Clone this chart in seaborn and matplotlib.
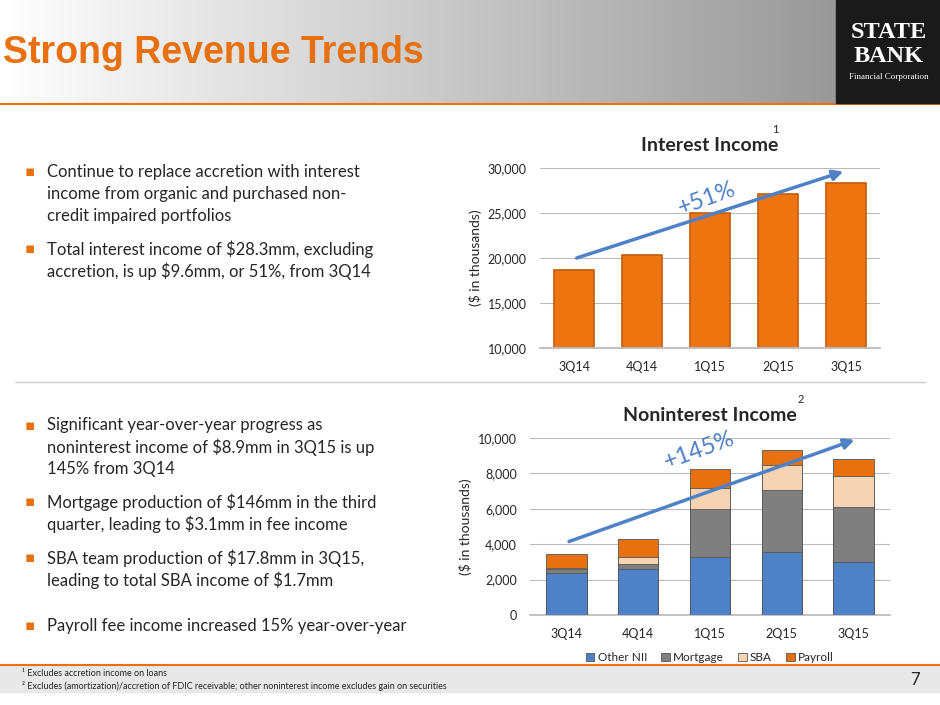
import matplotlib
matplotlib.use("Agg")
import matplotlib.pyplot as plt
import seaborn as sns
import numpy as np
import pandas as pd
from matplotlib.patches import Rectangle

quarters = ["3Q14", "4Q14", "1Q15", "2Q15", "3Q15"]
interest_income = [18700, 20300, 25000, 27100, 28300]
other_nii = [2400, 2600, 3300, 3550, 3020]
mortgage = [200, 280, 2700, 3500, 3080]
sba = [50, 380, 1150, 1420, 1760]
payroll = [780, 1010, 1100, 860, 960]
series_names = ["Other NII", "Mortgage", "SBA", "Payroll"]
series_colors = ["#4f81c7", "#7f7f7f", "#f5d3b3", "#e8700e"]

sns.set_theme(style="white")
plt.rcParams['font.family'] = ['Lato', 'DejaVu Sans']

fig = plt.figure(figsize=(9.4, 7.05), dpi=100)
W, H = 940, 705
def fx(x): return x / W
def fy(y): return 1 - y / H

# header gradient
bg = fig.add_axes([0, fy(103), 1, 103 / H]); bg.axis("off")
grad = np.linspace(1, 0.55, 256)[None, :]
bg.imshow(np.dstack([grad]*3), aspect="auto", extent=[0, 1, 0, 1])
bg.set_xlim(0, 1); bg.set_ylim(0, 1)
fig.patches.append(Rectangle((fx(836), fy(103)), 1 - fx(836), 103 / H, transform=fig.transFigure, color="#1a1a1a", zorder=5))
fig.text(fx(889), fy(33), "STATE", color="white", ha="center", va="center", fontsize=17.5, fontweight="bold", family="Liberation Serif", zorder=6)
fig.text(fx(889), fy(57), "BANK", color="white", ha="center", va="center", fontsize=17.5, fontweight="bold", family="Liberation Serif", zorder=6)
fig.text(fx(889), fy(77), "Financial Corporation", color="white", ha="center", va="center", fontsize=6.5, family="Liberation Serif", zorder=6)
fig.text(fx(3), fy(53), "Strong Revenue Trends", color="#e8700e", fontsize=27, fontweight="bold", family="Liberation Sans", va="center")
fig.add_artist(plt.Line2D([0, 1], [fy(104), fy(104)], color="#e8700e", lw=1.5))
fig.add_artist(plt.Line2D([fx(15), fx(925)], [fy(382), fy(382)], color="#cccccc", lw=1))
# footer
fig.patches.append(Rectangle((0, fy(692)), 1, 27 / H, transform=fig.transFigure, color="#e8e8e8", zorder=0))
fig.add_artist(plt.Line2D([0, 1], [fy(665), fy(665)], color="#e8700e", lw=1.5))
fig.text(fx(22), fy(674), "¹ Excludes accretion income on loans", fontsize=6.5, va="center")
fig.text(fx(22), fy(686), "² Excludes (amortization)/accretion of FDIC receivable; other noninterest income excludes gain on securities", fontsize=6.5, va="center")
fig.text(fx(915), fy(680), "7", fontsize=12, ha="center", va="center")

# bullets
def bullet(y, lines):
    fig.text(fx(25), fy(y), "▪", color="#e8700e", fontsize=11, va="center", family="DejaVu Sans")
    for i, l in enumerate(lines):
        fig.text(fx(47), fy(y + i * 22), l, fontsize=12, va="center")
bullet(172, ["Continue to replace accretion with interest", "income from organic and purchased non-", "credit impaired portfolios"])
bullet(249, ["Total interest income of $28.3mm, excluding", "accretion, is up $9.6mm, or 51%, from 3Q14"])
bullet(425, ["Significant year-over-year progress as", "noninterest income of $8.9mm in 3Q15 is up", "145% from 3Q14"])
bullet(502, ["Mortgage production of $146mm in the third", "quarter, leading to $3.1mm in fee income"])
bullet(558, ["SBA team production of $17.8mm in 3Q15,", "leading to total SBA income of $1.7mm"])
bullet(626, ["Payroll fee income increased 15% year-over-year"])

# top chart
ax1 = fig.add_axes([fx(540), fy(348), fx(340), 180 / H])
df1 = pd.DataFrame({"q": quarters, "v": interest_income})
sns.barplot(data=df1, x="q", y="v", color="#ee7410", width=0.6, ax=ax1, edgecolor="#c35e08", linewidth=1.2, saturation=1)
ax1.set_ylim(10000, 30000)
ax1.set_yticks(range(10000, 30001, 5000))
ax1.set_yticklabels([f"{v:,}" for v in range(10000, 30001, 5000)], fontsize=9)
ax1.tick_params(axis="x", labelsize=9)
ax1.yaxis.grid(True, color="#bbbbbb", lw=0.8); ax1.set_axisbelow(True)
for s in ["top", "right", "left"]: ax1.spines[s].set_visible(False)
ax1.spines["bottom"].set_color("#bbbbbb")
ax1.set_xlabel(""); ax1.set_ylabel("($ in thousands)", fontsize=10)
ax1.set_title("Interest Income", fontsize=14, fontweight="bold", pad=12)
fig.text(fx(772), fy(133), "1", fontsize=8)
ax1.annotate("", xy=(4, 29700), xytext=(0, 19900), arrowprops=dict(arrowstyle="-|>", color="#4f81c7", lw=2.5, mutation_scale=15))
ax1.text(1.95, 26600, "+51%", color="#4f81c7", fontsize=17, rotation=20, ha="center", va="center")

# bottom chart
ax2 = fig.add_axes([fx(530), fy(615), fx(360), 177 / H])
df2 = pd.DataFrame({"q": quarters, "Other NII": other_nii, "Mortgage": mortgage, "SBA": sba, "Payroll": payroll})
bottom = np.zeros(len(quarters))
for name, c in zip(series_names, series_colors):
    sns.barplot(x=np.arange(len(quarters)), y=bottom + df2[name].values, color=c, width=0.56, ax=ax2, saturation=1, zorder=-list(series_names).index(name) + 5, edgecolor="#555555", linewidth=0.6, native_scale=True, label=name)
    bottom = bottom + df2[name].values
ax2.set_xticks(range(len(quarters))); ax2.set_xticklabels(quarters, fontsize=9)
ax2.set_ylim(0, 10000)
ax2.set_yticks(range(0, 10001, 2000))
ax2.set_yticklabels([f"{v:,}" for v in range(0, 10001, 2000)], fontsize=9)
ax2.yaxis.grid(True, color="#bbbbbb", lw=0.8); ax2.set_axisbelow(True)
for s in ["top", "right", "left"]: ax2.spines[s].set_visible(False)
ax2.spines["bottom"].set_color("#bbbbbb")
ax2.set_xlabel(""); ax2.set_ylabel("($ in thousands)", fontsize=10)
ax2.set_title("Noninterest Income", fontsize=14, fontweight="bold", pad=12)
fig.text(fx(798), fy(403), "2", fontsize=8)
ax2.annotate("", xy=(4.05, 9950), xytext=(0, 4100), arrowprops=dict(arrowstyle="-|>", color="#4f81c7", lw=2.5, mutation_scale=15))
ax2.text(1.85, 9300, "+145%", color="#4f81c7", fontsize=17, rotation=20, ha="center", va="center")
h, l = ax2.get_legend_handles_labels()
ax2.legend(h, l, loc="upper center", bbox_to_anchor=(0.5, -0.15), ncol=4, frameon=False, fontsize=8.5, handlelength=0.7, handletextpad=0.3, columnspacing=1.2)

fig.savefig("out.png", dpi=100)
